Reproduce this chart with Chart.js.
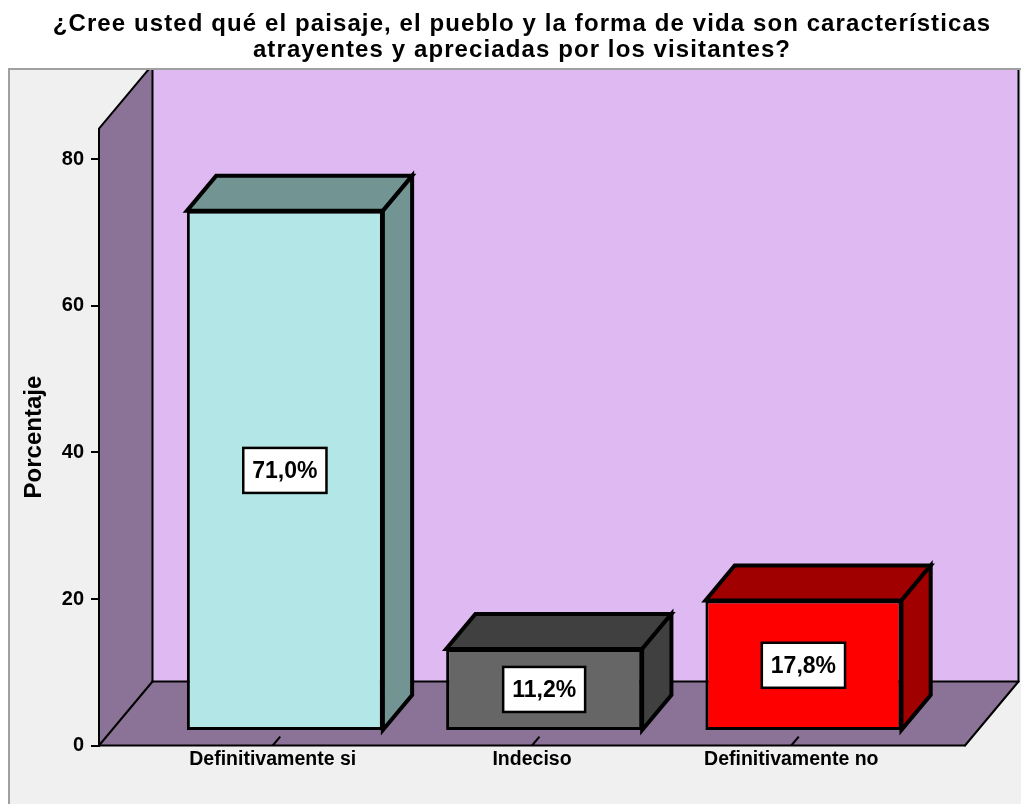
<!DOCTYPE html>
<html><head><meta charset="utf-8">
<script src="https://cdn.jsdelivr.net/npm/chart.js@4/dist/chart.umd.min.js"></script>
<style>html,body{margin:0;padding:0;background:#fff;overflow:hidden}canvas{display:block}</style>
</head><body>
<canvas id="c" width="1021" height="804"></canvas>
<script>
// ---- data ----
const titleLines = ['¿Cree usted qué el paisaje, el pueblo y la forma de vida son características', 'atrayentes y apreciadas por los visitantes?'];
const categories = ['Definitivamente si', 'Indeciso', 'Definitivamente no'];
const percentages = [71.0, 11.2, 17.8];
const valueLabels = ['71,0%', '11,2%', '17,8%'];
const yTickValues = [0, 20, 40, 60, 80];
const yAxisTitle = 'Porcentaje';

// ---- styles ----
const FONT = "'Liberation Sans', Arial, Helvetica, sans-serif";
const frontColors = ['#b3e6e6', '#666666', '#ff0000'];
const sideColors = ['#729593', '#404040', '#a00000'];
const WALL_BACK = '#dfb9f2';
const WALL_SIDE = '#8b7397';
const DEPTH = { dx: 53.5, dy: -64 };
const BAR_FRONT = 0.227, BAR_DEPTH = 0.547, TICK_DEPTH = 0.14;
const FRAME = { x: 9, y: 69 };

function poly(ctx, pts, fill, stroke, lw) {
  ctx.beginPath();
  pts.forEach((p, i) => i ? ctx.lineTo(p[0], p[1]) : ctx.moveTo(p[0], p[1]));
  ctx.closePath();
  if (fill) { ctx.fillStyle = fill; ctx.fill(); }
  if (stroke) { ctx.strokeStyle = stroke; ctx.lineWidth = lw; ctx.lineJoin = 'miter'; ctx.stroke(); }
}
function seg(ctx, x1, y1, x2, y2) { ctx.beginPath(); ctx.moveTo(x1, y1); ctx.lineTo(x2, y2); ctx.stroke(); }

const scene3d = {
  id: 'scene3d',
  beforeDraw(chart) {
    const { ctx, chartArea: a, width, height } = chart;
    ctx.save();
    ctx.fillStyle = '#ffffff'; ctx.fillRect(0, 0, width, height);
    ctx.fillStyle = '#f0f0f0'; ctx.fillRect(FRAME.x, FRAME.y, width + 20, height + 20);
    ctx.strokeStyle = '#a0a0a0'; ctx.lineWidth = 2;
    ctx.strokeRect(FRAME.x, FRAME.y, width + 20, height + 20);
    ctx.beginPath(); ctx.rect(FRAME.x + 1, FRAME.y + 1, width, height); ctx.clip();
    const L = a.left, R = a.right, T = a.top, B = a.bottom, dx = DEPTH.dx, dy = DEPTH.dy;
    ctx.fillStyle = WALL_BACK; ctx.fillRect(L + dx, T + dy, R - L, B - T);
    poly(ctx, [[L, B], [L, T], [L + dx, T + dy], [L + dx, B + dy]], WALL_SIDE);
    poly(ctx, [[L, B], [R, B], [R + dx, B + dy], [L + dx, B + dy]], WALL_SIDE);
    ctx.strokeStyle = '#000'; ctx.lineWidth = 2; ctx.lineCap = 'round';
    seg(ctx, L, T, L + dx, T + dy);
    seg(ctx, L + dx, T + dy, L + dx, B + dy);
    seg(ctx, L + dx, B + dy, R + dx, B + dy);
    seg(ctx, R + dx, B + dy, R + dx, T + dy);
    seg(ctx, L, B, R, B);
    seg(ctx, R, B, R + dx, B + dy);
    seg(ctx, L, B, L + dx, B + dy);
    ctx.restore();
  },
  beforeDatasetsDraw(chart) {
    const { ctx, chartArea: a } = chart;
    const xs = chart.scales.x;
    const fx = DEPTH.dx * BAR_FRONT, fy = DEPTH.dy * BAR_FRONT;
    const bx = DEPTH.dx * BAR_DEPTH, by = DEPTH.dy * BAR_DEPTH;
    ctx.save();
    ctx.strokeStyle = '#000'; ctx.lineWidth = 2;
    xs.ticks.forEach(t => {
      const px = xs.getPixelForValue(t.value);
      seg(ctx, px, a.bottom, px + DEPTH.dx * TICK_DEPTH, a.bottom + DEPTH.dy * TICK_DEPTH);
    });
    ctx.translate(fx, fy);
    const meta = chart.getDatasetMeta(0);
    meta.data.forEach((el, i) => {
      const { x, y, base, width } = el.getProps(['x', 'y', 'base', 'width'], true);
      const l = x - width / 2, r = x + width / 2;
      poly(ctx, [[l, y], [l + bx, y + by], [r + bx, y + by], [r, y]], sideColors[i], '#000', 4);
      poly(ctx, [[r, y], [r + bx, y + by], [r + bx, base + by], [r, base]], sideColors[i], '#000', 4);
    });
  },
  afterDatasetsDraw(chart) {
    const { ctx } = chart;
    ctx.restore();
    const fx = DEPTH.dx * BAR_FRONT, fy = DEPTH.dy * BAR_FRONT;
    const meta = chart.getDatasetMeta(0);
    ctx.save();
    ctx.font = `bold 23px ${FONT}`;
    ctx.textAlign = 'center'; ctx.textBaseline = 'middle';
    meta.data.forEach((el, i) => {
      const { x, y, base } = el.getProps(['x', 'y', 'base'], true);
      const cx = x + fx, cy = (y + base) / 2 + fy;
      const txt = valueLabels[i];
      const w = ctx.measureText(txt).width + 18, h = 45;
      ctx.fillStyle = '#fff'; ctx.fillRect(cx - w / 2, cy - h / 2, w, h);
      ctx.strokeStyle = '#000'; ctx.lineWidth = 2.5; ctx.strokeRect(cx - w / 2, cy - h / 2, w, h);
      ctx.fillStyle = '#000'; ctx.fillText(txt, cx, cy + 1);
    });
    ctx.restore();
  },
  afterDraw(chart) {
    const { ctx } = chart;
    ctx.save();
    ctx.font = `bold 24px ${FONT}`;
    ctx.fillStyle = '#000'; ctx.textAlign = 'center'; ctx.textBaseline = 'alphabetic';
    if ('letterSpacing' in ctx) ctx.letterSpacing = '1.1px';
    titleLines.forEach((t, i) => ctx.fillText(t, 522, 31 + i * 26));
    ctx.restore();
  }
};

new Chart(document.getElementById('c'), {
  type: 'bar',
  data: {
    datasets: [{
      data: categories.map((c, i) => ({ x: i, y: percentages[i] })),
      backgroundColor: frontColors,
      borderColor: '#000',
      borderWidth: 3,
      borderSkipped: false,
      barPercentage: 0.756,
      categoryPercentage: 1,
      clip: false
    }]
  },
  options: {
    responsive: false,
    animation: false,
    events: [],
    layout: { padding: { left: 10, right: 56, top: 128.7, bottom: 0 } },
    plugins: { legend: { display: false }, title: { display: false }, tooltip: { enabled: false } },
    scales: {
      x: {
        type: 'linear',
        min: -0.67, max: 2.67,
        offset: false,
        grid: { display: false, drawTicks: false },
        border: { display: false },
        afterBuildTicks: s => { s.ticks = categories.map((c, i) => ({ value: i })); },
        afterFit: s => { s.height = 58.5; },
        ticks: {
          autoSkip: false, maxRotation: 0, padding: 2,
          color: '#000',
          font: { family: FONT, size: 19.5, weight: 'bold' },
          callback: v => categories[v]
        }
      },
      y: {
        type: 'linear',
        min: 0, max: 84.2,
        afterBuildTicks: s => { s.ticks = yTickValues.map(v => ({ value: v })); },
        afterFit: s => { s.width = 89; },
        grid: { display: true, drawOnChartArea: false, drawTicks: true, tickLength: 8, color: '#000', lineWidth: 2 },
        border: { display: true, color: '#000', width: 2 },
        ticks: { padding: 7, color: '#000', font: { family: FONT, size: 20, weight: 'bold' } },
        title: { display: true, text: yAxisTitle, color: '#000', padding: { top: 9.6, bottom: 0 }, font: { family: FONT, size: 24, weight: 'bold' } }
      }
    }
  },
  plugins: [scene3d]
});
</script>
</body></html>
